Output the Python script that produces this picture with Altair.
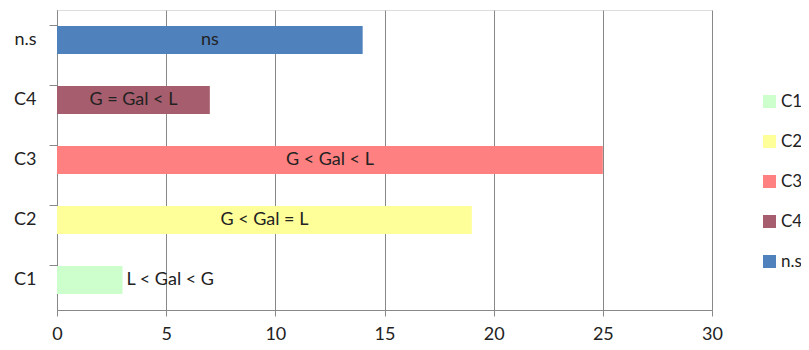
import altair as alt
import pandas as pd

categories = ["C1", "C2", "C3", "C4", "n.s"]
values = [3, 19, 25, 7, 14]
labels = ["L < Gal < G", "G < Gal = L", "G < Gal < L", "G = Gal < L", "ns"]
colors = ["#CCFFCC", "#FFFF99", "#FF8080", "#A65E6E", "#4F81BD"]

df = pd.DataFrame({"cat": categories, "val": values, "lab": labels})

font = "Lato"
fs = 18
txt = "#222222"
ysort = list(reversed(categories))

y = alt.Y("cat:N", sort=ysort, title=None,
          scale=alt.Scale(paddingInner=0.53, paddingOuter=0.265),
          axis=alt.Axis(bandPosition=0, tickSize=8, labelPadding=13,
                        labelFontSize=fs, labelFont=font, labelColor=txt,
                        domainColor="#888", tickColor="#888", grid=False))
x = alt.X("val:Q", title=None,
          scale=alt.Scale(domain=[0, 30], nice=False),
          axis=alt.Axis(values=[0, 5, 10, 15, 20, 25, 30], tickSize=6,
                        labelPadding=9, labelFontSize=fs, labelFont=font,
                        labelColor=txt, domainColor="#888", tickColor="#888",
                        gridColor="#888", gridOpacity=1, labelFlush=False))

bars = alt.Chart(df).mark_bar(opacity=1).encode(
    x=x, y=y,
    color=alt.Color("cat:N", scale=alt.Scale(domain=categories, range=colors),
                    legend=alt.Legend(title=None, orient="none", legendX=704, legendY=83,
                                      symbolType="square", symbolSize=169,
                                      symbolStrokeWidth=0, labelFontSize=17,
                                      labelFont=font, labelColor=txt,
                                      rowPadding=22, padding=0, labelOffset=3)),
)

center_text = alt.Chart(df).transform_filter("datum.cat != 'C1'").transform_calculate(
    mid="datum.val / 2").mark_text(fontSize=fs, font=font, color=txt).encode(
    x=alt.X("mid:Q"), y=alt.Y("cat:N", sort=ysort), text="lab:N")

end_text = alt.Chart(df).transform_filter("datum.cat == 'C1'").mark_text(
    fontSize=fs, font=font, color=txt, align="left", dx=4).encode(
    x=alt.X("val:Q"), y=alt.Y("cat:N", sort=ysort), text="lab:N")

chart = alt.layer(bars, center_text, end_text).properties(
    width=655, height=300,
    autosize=alt.AutoSizeParams(type="none"),
    padding={"left": 49, "top": 2, "right": 89, "bottom": 32},
).configure_view(strokeWidth=0, stroke="transparent").configure(background="white")

chart.save("out.html", embed_options={"renderer": "svg", "actions": False})
